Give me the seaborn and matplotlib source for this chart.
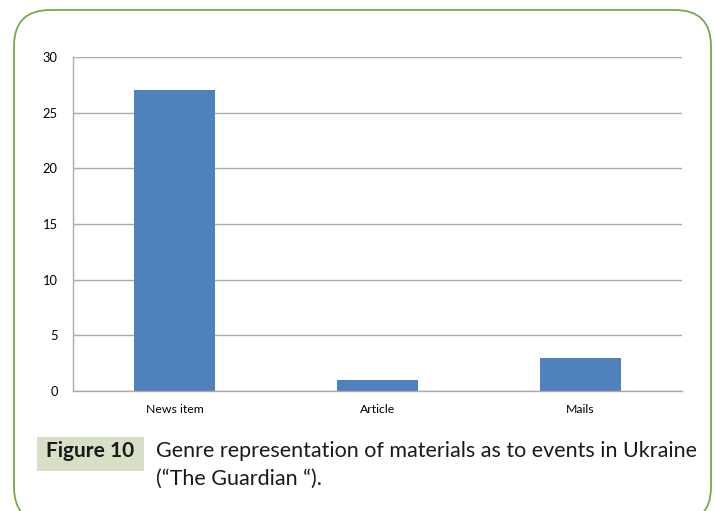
import matplotlib
matplotlib.use("Agg")
import matplotlib.pyplot as plt
from matplotlib.patches import FancyBboxPatch, Rectangle
import seaborn as sns

genres = ["News item", "Article", "Mails"]
counts = [27, 1, 3]
y_ticks = [0, 5, 10, 15, 20, 25, 30]

caption_label = "Figure 10"
caption_lines = ["Genre representation of materials as to events in Ukraine",
                 "(\u201cThe Guardian \u201c)."]

W, H = 715, 511
BAR = "#4F81BD"
GRID = "#ABABAB"
GREEN = "#77A94A"

sns.set_style("white")
plt.rcParams["font.family"] = ["Lato", "DejaVu Sans"]

fig = plt.figure(figsize=(W / 100, H / 100), dpi=100)

# plot area in pixel terms (from the top)
left, right, top, zero = 73, 682, 57, 391
ax = fig.add_axes([left / W, (H - zero) / H, (right - left) / W, (zero - top) / H])
sns.barplot(x=genres, y=counts, color=BAR, width=0.4, saturation=1,
            linewidth=0, ax=ax)
ax.set_xlim(-0.5, len(genres) - 0.5)
ax.set_ylim(0, 30)
ax.set_yticks(y_ticks)
ax.set_xlabel("")
ax.set_ylabel("")
ax.yaxis.grid(True, color=GRID, lw=1)
ax.set_axisbelow(True)
for s in ["top", "right"]:
    ax.spines[s].set_visible(False)
for s in ["left", "bottom"]:
    ax.spines[s].set_color(GRID)
    ax.spines[s].set_linewidth(1)
ax.tick_params(axis="y", length=5, width=1, color=GRID, labelsize=9.3, pad=6,
               labelcolor="black")
ax.tick_params(axis="x", which="major", length=0, labelsize=8.8, pad=9,
               labelcolor="black")
ax.set_xticks([i - 0.5 for i in range(len(genres) + 1)], minor=True)
ax.tick_params(axis="x", which="minor", length=5, width=1, color=GRID)

# overlay in pixel coordinates (y measured from the bottom)
ov = fig.add_axes([0, 0, 1, 1], zorder=-1)
ov.set_xlim(0, W)
ov.set_ylim(0, H)
ov.axis("off")
frame = FancyBboxPatch((14, H - 523), 697, 513,
                       boxstyle="round,pad=0,rounding_size=36",
                       fc="none", ec=GREEN, lw=1.3, clip_on=False)
ov.add_patch(frame)
ov.add_patch(Rectangle((37, H - 471), 107, 34, fc="#D7E0C7", ec="none"))
ov.text(90.5, H - 457, caption_label, ha="center", va="baseline", fontsize=15,
        fontweight="bold", color="#1a1a1a")
ov.text(156, H - 457, caption_lines[0], ha="left", va="baseline", fontsize=15.5,
        color="#1a1a1a")
ov.text(156, H - 485, caption_lines[1], ha="left", va="baseline", fontsize=15.5,
        color="#1a1a1a")

fig.savefig("out.png", dpi=100)
